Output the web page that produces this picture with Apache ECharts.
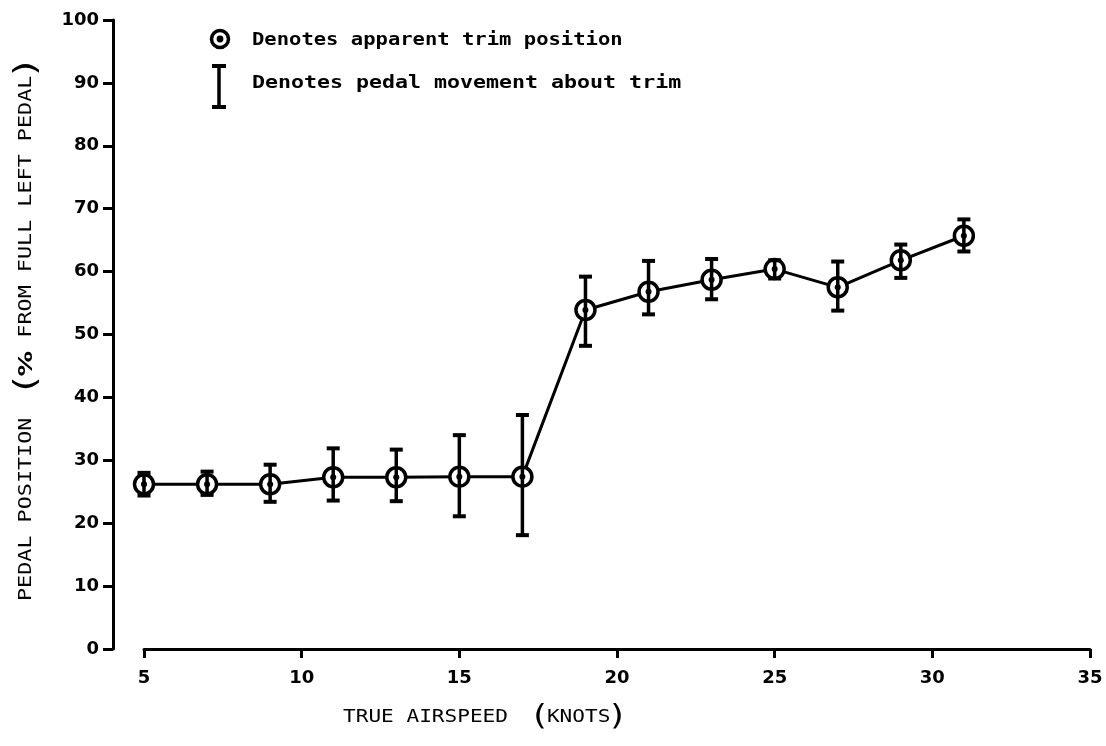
<!DOCTYPE html>
<html>
<head>
<meta charset="utf-8">
<script src="https://cdn.jsdelivr.net/npm/echarts@6/dist/echarts.min.js"></script>
<style>
  html, body { margin: 0; padding: 0; background: #fff; }
  #chart { width: 1106px; height: 746px; }
</style>
</head>
<body>
<div id="chart"></div>
<script>
  // airspeed (knots) and pedal trim readings
  const airspeed = [5, 7, 9, 11, 13, 15, 17, 19, 21, 23, 25, 27, 29, 31]
  const trimPosition = [26.2, 26.2, 26.2, 27.3, 27.3, 27.4, 27.4, 53.9, 56.8, 58.7, 60.4, 57.5, 61.8, 65.7]
  const pedalHigh = [28.0, 28.2, 29.3, 31.9, 31.7, 34.0, 37.2, 59.2, 61.7, 62.0, 61.8, 61.6, 64.3, 68.3]
  const pedalLow = [24.4, 24.5, 23.4, 23.6, 23.5, 21.1, 18.1, 48.2, 53.2, 55.6, 58.9, 53.8, 59.0, 63.2]

  const monoFont = '"DejaVu Sans Mono", monospace'
  const labelFont = '"DejaVu Sans", sans-serif'

  let trimData = airspeed.map((x, i) => [x, trimPosition[i]])
  let barData = airspeed.map((x, i) => [x, pedalLow[i], pedalHigh[i]])

  let chart = echarts.init(document.getElementById('chart'))

  chart.setOption({
    backgroundColor: '#fff',
    animation: false,
    grid: {
      left: 144,
      right: 16,
      top: 20,
      bottom: 97
    },
    xAxis: {
      type: 'value',
      min: 5,
      max: 35,
      interval: 5,
      axisLine: { lineStyle: { color: '#000', width: 3 } },
      axisTick: { length: 9, lineStyle: { color: '#000', width: 3 } },
      axisLabel: { color: '#000', fontSize: 18, fontWeight: 'bold', fontFamily: labelFont, margin: 20 },
      splitLine: { show: false }
    },
    yAxis: {
      type: 'value',
      min: 0,
      max: 100,
      interval: 10,
      offset: 31,
      axisLine: { show: true, lineStyle: { color: '#000', width: 3 } },
      axisTick: { show: true, length: 10, lineStyle: { color: '#000', width: 3 } },
      axisLabel: { color: '#000', fontSize: 18, fontWeight: 'bold', fontFamily: labelFont, margin: 14 },
      splitLine: { show: false }
    },
    graphic: [
      // legend
      { type: 'circle', shape: { cx: 220, cy: 39, r: 8.5 }, style: { fill: '#fff', stroke: '#000', lineWidth: 3.5 } },
      { type: 'circle', shape: { cx: 220, cy: 39, r: 3.4 }, style: { fill: '#000' } },
      { type: 'line', shape: { x1: 219, y1: 66, x2: 219, y2: 107 }, style: { stroke: '#000', lineWidth: 3.5 } },
      { type: 'line', shape: { x1: 212, y1: 66, x2: 226, y2: 66 }, style: { stroke: '#000', lineWidth: 4 } },
      { type: 'line', shape: { x1: 212, y1: 107, x2: 226, y2: 107 }, style: { stroke: '#000', lineWidth: 4 } },
      {
        type: 'text', x: 252, y: 40, scaleX: 1.14,
        style: { text: 'Denotes apparent trim position', fill: '#000', font: 'bold 18px ' + monoFont, verticalAlign: 'middle' }
      },
      {
        type: 'text', x: 252, y: 83, scaleX: 1.2,
        style: { text: 'Denotes pedal movement about trim', fill: '#000', font: 'bold 18px ' + monoFont, verticalAlign: 'middle' }
      },
      // axis titles
      {
        type: 'text', x: 343, y: 718, scaleX: 1.24,
        style: {
          text: 'TRUE AIRSPEED  {p|(}KNOTS{p|)}', fill: '#000', font: '17px ' + monoFont, verticalAlign: 'middle',
          rich: { p: { fontSize: 28, fontFamily: labelFont, fill: '#000' } }
        }
      },
      {
        type: 'text', x: 27, y: 601, rotation: Math.PI / 2, scaleX: 1.28,
        style: {
          text: 'PEDAL POSITION  {p|(}{b|%} FROM FULL LEFT PEDAL{p|)}', fill: '#000', font: '17px ' + monoFont, verticalAlign: 'middle',
          rich: {
            p: { fontSize: 30, fontFamily: labelFont, fill: '#000' },
            b: { fontSize: 20, fontWeight: 'bold', fontFamily: labelFont, fill: '#000' }
          }
        }
      }
    ],
    series: [
      {
        type: 'line',
        data: trimData,
        symbol: 'none',
        z: 2,
        lineStyle: { color: '#000', width: 3 }
      },
      {
        type: 'scatter',
        data: trimData,
        symbol: 'circle',
        symbolSize: 19,
        z: 3,
        itemStyle: { color: '#fff', borderColor: '#000', borderWidth: 3.5, opacity: 1 }
      },
      {
        type: 'custom',
        data: barData,
        z: 4,
        renderItem: function (params, api) {
          let lo = api.coord([api.value(0), api.value(1)])
          let hi = api.coord([api.value(0), api.value(2)])
          let w = 6.5
          return {
            type: 'group',
            children: [
              { type: 'line', shape: { x1: hi[0], y1: hi[1], x2: lo[0], y2: lo[1] }, style: { stroke: '#000', lineWidth: 3.5 } },
              { type: 'line', shape: { x1: hi[0] - w, y1: hi[1], x2: hi[0] + w, y2: hi[1] }, style: { stroke: '#000', lineWidth: 4 } },
              { type: 'line', shape: { x1: lo[0] - w, y1: lo[1], x2: lo[0] + w, y2: lo[1] }, style: { stroke: '#000', lineWidth: 4 } }
            ]
          }
        }
      },
      {
        type: 'scatter',
        data: trimData,
        symbol: 'circle',
        symbolSize: 6,
        z: 5,
        itemStyle: { color: '#000', opacity: 1 }
      }
    ]
  })
</script>
</body>
</html>
